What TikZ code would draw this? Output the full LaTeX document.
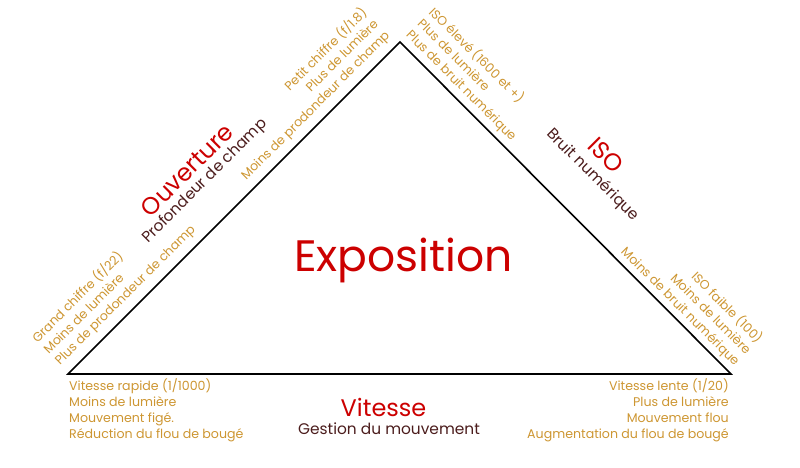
\documentclass[tikz,border=0pt]{standalone}
\usepackage{fontspec}
\setmainfont{Poppins}
\definecolor{expred}{HTML}{CC0000}
\definecolor{subbrown}{HTML}{4B1C1C}
\definecolor{notegold}{HTML}{CD9632}
\tikzset{
    tri/.style={draw, line width=1.6pt, line join=miter},
    big/.style={text=expred, inner sep=0pt, font=\fontsize{44}{50}\selectfont},
    ttl/.style={text=expred, inner sep=0pt, font=\fontsize{24}{28}\selectfont},
    sub/.style={text=subbrown, inner sep=0pt, font=\fontsize{15.4}{18}\selectfont},
    note/.style={text=notegold, inner sep=0pt, font=\fontsize{12.6}{16}\selectfont}
}
\begin{document}
\begin{tikzpicture}[x=1pt, y=1pt]
        \useasboundingbox (0,0) rectangle (800,468);
        \coordinate (l) at (68,94);
        \coordinate (t) at (400,426);
        \coordinate (r) at (731,94);
        \draw[tri] (l) -- (t) -- (r) -- cycle;

        \node[big, anchor=base] (expo) at (403.5,196) {Exposition};

        % ouverture
        \node[ttl, rotate=45] (ouv) at (187,298) {Ouverture};
        \node[sub, rotate=45] (ouvs) at (205,286.5) {Profondeur de champ};
        \node[note, rotate=45, anchor=south west, align=left] (ouvf) at (62.5,99.5) {Grand chiffre (f/22)\\Moins de lumière\\Plus de prodondeur de champ};
        \node[note, rotate=45, anchor=south east, align=right] (ouvo) at (392.8,429.2) {Petit chiffre (f/1.8)\\Plus de lumière\\Moins de prodondeur de champ};

        % iso
        \node[ttl, rotate=-45] (iso) at (606,313) {ISO};
        \node[sub, rotate=-45] (isos) at (592.5,293) {Bruit numérique};
        \node[note, rotate=-45, anchor=south west, align=left] (isoh) at (403,430) {ISO élevé (1600 et +)\\Plus de lumière\\Plus de bruit numérique};
        \node[note, rotate=-45, anchor=south east, align=right] (isob) at (732,99) {ISO faible (100)\\Moins de lumière\\Moins de bruit numérique};

        % vitesse
        \node[ttl] (vit) at (383.5,61) {Vitesse};
        \node[sub] (vits) at (389,39) {Gestion du mouvement};
        \node[note, anchor=north west, align=left] (vitr) at (69,89.5) {Vitesse rapide (1/1000)\\Moins de lumière\\Mouvement figé.\\Réduction du flou de bougé};
        \node[note, anchor=north east, align=right] (vitl) at (729,89.5) {Vitesse lente (1/20)\\Plus de lumière\\Mouvement flou\\Augmentation du flou de bougé};
\end{tikzpicture}
\end{document}
